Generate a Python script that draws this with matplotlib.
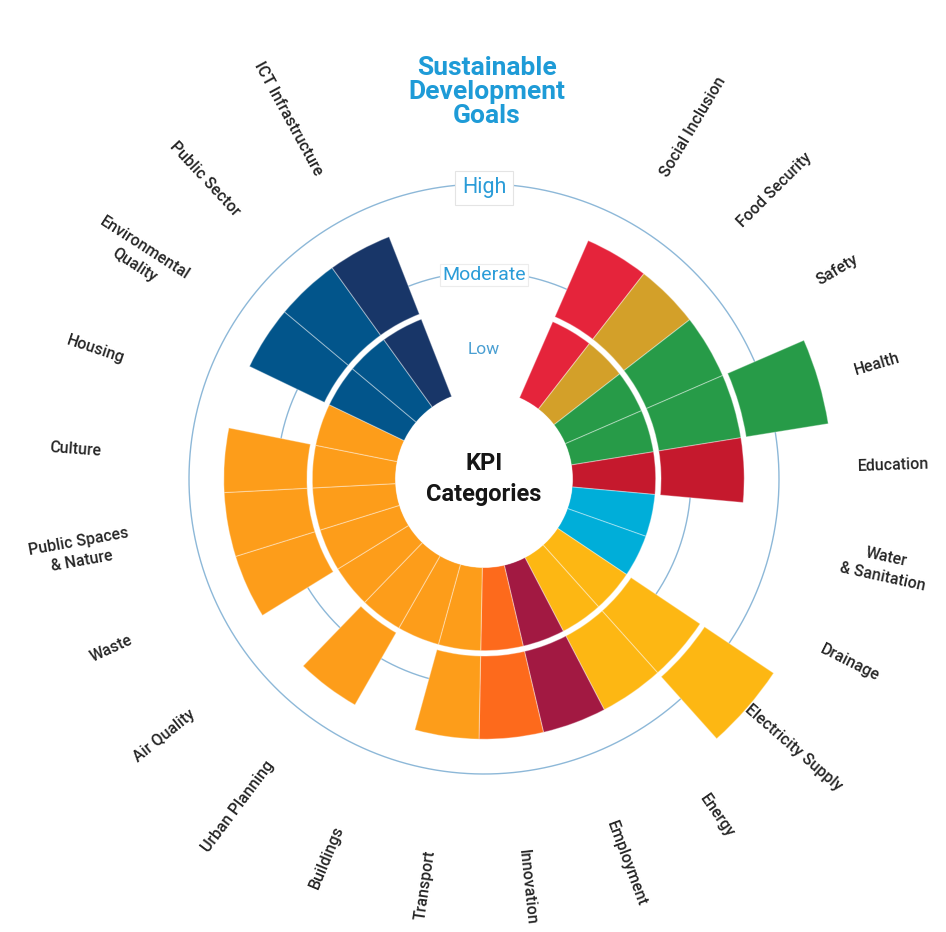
import numpy as np
import matplotlib
matplotlib.use("Agg")
import matplotlib.pyplot as plt

# ---------------- data ----------------
categories = ["Social Inclusion", "Food Security", "Safety", "Health", "Education",
              "Water\n& Sanitation", "Drainage", "Electricity Supply", "Energy",
              "Employment", "Innovation", "Transport", "Buildings", "Urban Planning",
              "Air Quality", "Waste", "Public Spaces\n& Nature", "Culture", "Housing",
              "Environmental\nQuality", "Public Sector", "ICT Infrastructure"]
sdg_goals = [1, 2, 3, 3, 4, 6, 6, 7, 7, 8, 9, 11, 11, 11, 11, 11, 11, 11, 11, 16, 16, 17]
levels = [2, 2, 2, 3, 2, 1, 1, 3, 2, 2, 2, 2, 1, 2, 1, 2, 2, 2, 1, 2, 2, 2]
level_names = ["Low", "Moderate", "High"]
sdg_colors = {1: "#E5243B", 2: "#D3A029", 3: "#279B48", 4: "#C5192D", 6: "#00AED9",
              7: "#FDB713", 8: "#A21942", 9: "#FD6A1C", 11: "#FD9D1A", 16: "#02558B",
              17: "#183668"}
title = "Sustainable\nDevelopment\nGoals"
center_text = "KPI\nCategories"

# ---------------- layout ----------------
W, H = 946, 932
cx, cy = 484, 479          # centre of the chart in pixels
unit_px = 88.5             # pixels per level unit
R_px = 470
rmax = R_px / unit_px - 1
band = 0.94                # band thickness (rest is white gap)
gap_deg = 45.0
rot_deg = 1.1
n = len(categories)
slot = (360.0 - gap_deg) / n
start = gap_deg / 2 + rot_deg

plt.rcParams["font.family"] = ["Roboto", "DejaVu Sans"]

fig = plt.figure(figsize=(W / 100, H / 100), dpi=100)
fig.patch.set_facecolor("white")
ax = fig.add_axes([(cx - R_px) / W, (H - cy - R_px) / H, 2 * R_px / W, 2 * R_px / H],
                  projection="polar")
ax.set_theta_zero_location("N")
ax.set_theta_direction(-1)
ax.set_rorigin(-1)
ax.set_ylim(0, rmax)
ax.axis("off")

theta_deg = np.array([start + (i + 0.5) * slot for i in range(n)])
theta = np.deg2rad(theta_deg)
width = np.deg2rad(slot)

# reference circles (Moderate / High)
grid_r = {"Moderate": 207 / unit_px - 1, "High": 295 / unit_px - 1}
tt = np.linspace(0, 2 * np.pi, 720)
for name in ["Moderate", "High"]:
    ax.plot(tt, np.full_like(tt, grid_r[name]), color="#8DB8D8", lw=1.0, zorder=1)

# bars
for i in range(n):
    col = sdg_colors[sdg_goals[i]]
    for k in range(levels[i]):
        ax.bar(theta[i], band, width=width, bottom=k, color=col,
               edgecolor=(1, 1, 1, 0.35), linewidth=0.8, zorder=3)

# level labels
level_style = {"Low": (12.5, "#4A9FD2", None, 129),
               "Moderate": (14, "#2A9CD8", dict(boxstyle="square,pad=0.12", fc="white", ec="#ececec", lw=0.8), 204),
               "High": (15.5, "#2A9CD8", dict(boxstyle="square,pad=0.3", fc="white", ec="#e4e4e4", lw=0.8), 291)}
for name in level_names:
    fs, colr, bb, rp = level_style[name]
    ax.text(0, rp / unit_px - 1, name, ha="center", va="center", fontsize=fs, color=colr,
            bbox=bb, zorder=4)

# category labels
label_r = 410 / unit_px - 1
for i, lab in enumerate(categories):
    t = theta_deg[i] % 360
    if t < 180:
        rot = 90 - t
    else:
        rot = 270 - t
    ax.text(theta[i], label_r, lab, rotation=rot, rotation_mode="anchor",
            ha="center", va="center", multialignment="center",
            fontsize=11.5, color="#262626", fontweight="medium", linespacing=1.45)

# centre + title
ax.text(0, -1, center_text, ha="center", va="center", fontsize=17, fontweight="bold",
        color="#161616", linespacing=1.5, zorder=5)
fig.text(487 / W, 1 - 92 / H, title, ha="center", va="center", fontsize=19,
         fontweight="bold", color="#1E9BD7", linespacing=1.0)

fig.savefig("out.png", dpi=100, facecolor="white")
